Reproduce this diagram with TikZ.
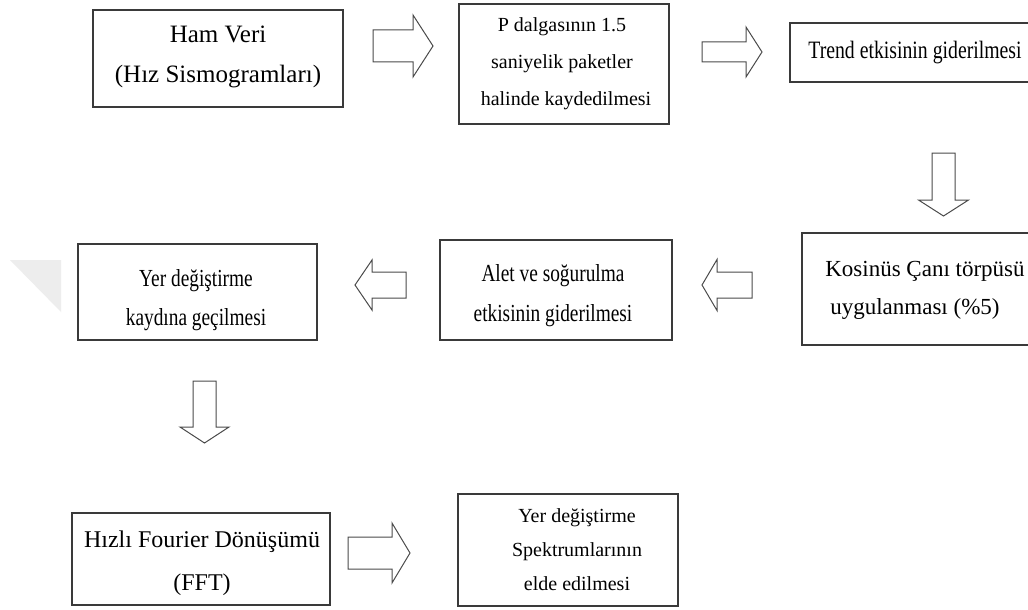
\documentclass[tikz,border=0pt]{standalone}
\usepackage{fontspec}
\setmainfont{Liberation Serif}
\newfontfamily\condfont[FakeStretch=0.79]{Liberation Serif}
\definecolor{boxline}{HTML}{3A3A3A}
\definecolor{arrline}{HTML}{4A4A4A}
\definecolor{wmark}{HTML}{EDEDED}
\tikzset{
  box/.style={draw=boxline, line width=1.4pt, fill=white, rectangle, inner sep=0pt},
  txt/.style={inner sep=0pt, align=center, text=black},
  arrowline/.style={draw=arrline, line width=1pt, fill=white, line join=miter},
  pics/barrow/.style n args={4}{code={
    \draw[arrowline] (0,-#2) -- (#1-#4,-#2) -- (#1-#4,-#3) -- (#1,0) -- (#1-#4,#3) -- (#1-#4,#2) -- (0,#2) -- cycle;
  }}
}
\begin{document}
\begin{tikzpicture}[x=1pt,y=-1pt]
\useasboundingbox (0,0) rectangle (1028,610);
\clip (0,0) rectangle (1028,610);
\fill[white] (0,0) rectangle (1028,610);
% watermark
\fill[wmark] (10,260) -- (61,260) -- (61,312) -- cycle;

% boxes
\node[box, minimum width=250, minimum height=97] (b1) at (218,58.5) {};
\node[box, minimum width=210, minimum height=120] (b2) at (564,64) {};
\node[box, minimum width=250, minimum height=59] (b3) at (915,52.5) {};
\node[box, minimum width=246, minimum height=112] (b4) at (925,289) {};
\node[box, minimum width=232, minimum height=100] (b5) at (556,290) {};
\node[box, minimum width=239, minimum height=96] (b6) at (197.5,292) {};
\node[box, minimum width=258, minimum height=92] (b7) at (201,559) {};
\node[box, minimum width=220, minimum height=112] (b8) at (568,550) {};

% texts
\node[txt, font=\fontsize{25}{40}\selectfont] (t1) at (218,57) {Ham Veri\\(Hız Sismogramları)};
\node[txt, font=\fontsize{20}{37}\selectfont] (t2) at (562,64) {P dalgasının 1.5\\saniyelik paketler\\\hspace{8pt}halinde kaydedilmesi};
\node[txt, font=\condfont\fontsize{25}{28}\selectfont] (t3) at (915,52.5) {Trend etkisinin giderilmesi};
\node[txt, align=left, font=\fontsize{23}{38}\selectfont] (t4) at (925,290) {Kosinüs Çanı törpüsü\\\hspace{5pt}uygulanması (\%5)};
\node[txt, font=\condfont\fontsize{24.5}{40}\selectfont] (t5) at (553,296) {Alet ve soğurulma\\etkisinin giderilmesi};
\node[txt, font=\condfont\fontsize{24.5}{39}\selectfont] (t6) at (196,300) {Yer değiştirme\\kaydına geçilmesi};
\node[txt, font=\fontsize{24}{43}\selectfont] (t7) at (202,563) {Hızlı Fourier Dönüşümü\\(FFT)};
\node[txt, font=\fontsize{20}{34}\selectfont] (t8) at (577,550) {Yer değiştirme\\Spektrumlarının\\elde edilmesi};

% block arrows
\coordinate (a1) at (373,46);
\coordinate (a2) at (702,52);
\coordinate (a3) at (943.5,153);
\coordinate (a4) at (752,285);
\coordinate (a5) at (406,285);
\coordinate (a6) at (204.5,381);
\coordinate (a7) at (348,553);
\pic at (a1) {barrow={60}{16}{31}{20}};
\pic at (a2) {barrow={60}{10}{25}{16}};
\pic[rotate=-90] at (a3) {barrow={63}{11.5}{25}{16}};
\pic[rotate=180] at (a4) {barrow={50}{13}{25.5}{15}};
\pic[rotate=180] at (a5) {barrow={51}{13}{25}{17}};
\pic[rotate=-90] at (a6) {barrow={62}{11.5}{24.5}{16}};
\pic at (a7) {barrow={62}{16}{30}{18}};
\end{tikzpicture}
\end{document}
